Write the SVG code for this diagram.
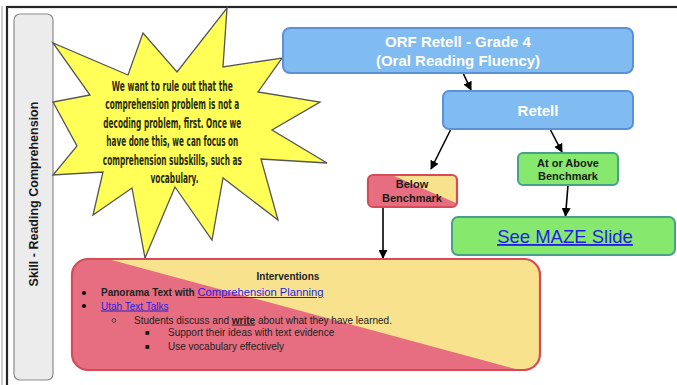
<svg xmlns="http://www.w3.org/2000/svg" width="677" height="385" viewBox="0 0 677 385">
  <defs>
    <marker id="arrow" viewBox="0 0 10 10" refX="9" refY="5" markerWidth="9" markerHeight="9" markerUnits="userSpaceOnUse" orient="auto">
      <path d="M0,0 L10,5 L0,10 z" fill="#000"/>
    </marker>
    <clipPath id="clip-below">
      <rect x="368" y="175" width="89" height="32" rx="5"/>
    </clipPath>
    <clipPath id="clip-interventions">
      <rect x="72" y="259" width="468" height="111" rx="16"/>
    </clipPath>
    <style>
      .frame { fill: none; stroke: #262626; stroke-width: 2.2; }
      .side { fill: #ececec; stroke: #8c8c8c; stroke-width: 1.2; }
      .side-label { font-family: "Liberation Sans", Arial, sans-serif; font-weight: bold; font-size: 12.5px; fill: #1a1a1a; }
      .star { fill: #ffff57; stroke: #555; stroke-width: 1.3; stroke-linejoin: miter; }
      .star-text { font-family: "Liberation Sans Narrow", "DejaVu Sans Condensed", "Liberation Sans", sans-serif; font-stretch: condensed; font-weight: bold; font-size: 14px; fill: #2b2b10; text-anchor: middle; }
      .blue-box { fill: #80bcf1; stroke: #5b92d6; stroke-width: 2; }
      .blue-text { font-family: "Liberation Sans", Arial, sans-serif; font-weight: bold; font-size: 15px; fill: #ffffff; text-anchor: middle; }
      .green-box { fill: #86e86c; stroke: #45a08c; stroke-width: 2; }
      .small-bold { font-family: "Liberation Sans", Arial, sans-serif; font-weight: bold; font-size: 11px; fill: #1a1a1a; text-anchor: middle; }
      .red-fill { fill: #e66e80; }
      .yellow-fill { fill: #f8e28e; }
      .red-stroke { fill: none; stroke: #d54b58; stroke-width: 2.2; }
      .link { fill: #1f1fe6; text-decoration: underline; }
      .body { font-family: "Liberation Sans", Arial, sans-serif; font-size: 10px; fill: #222; }
      .connector { stroke: #000; stroke-width: 1.6; fill: none; marker-end: url(#arrow); }
    </style>
  </defs>

  <rect width="677" height="385" fill="#ffffff"/>

  <!-- page frame -->
  <line x1="2" y1="6" x2="2" y2="385" stroke="#9a9a9a" stroke-width="1"/>
  <rect class="frame" x="7" y="7" width="690" height="400"/>

  <!-- side label -->
  <g id="skill-label">
    <rect class="side" x="14" y="14" width="39" height="366" rx="6"/>
    <text class="side-label" transform="translate(38,194) rotate(-90)" text-anchor="middle">Skill - Reading Comprehension</text>
  </g>

  <!-- call-out starburst -->
  <g id="note-star">
    <polygon class="star" points="227,8 223,67 282,58 258,92 320,102 272,130 327,163 261,159 278,220 223,178 212,240 175,187 145,258 132,188 93,215 103,172 53,175 77,146 53,102 90,95 53,43 128,75 143,33 177,72"/>
    <text class="star-text">
      <tspan x="174.5" y="91" textLength="121" lengthAdjust="spacingAndGlyphs">We want to rule out that the</tspan>
      <tspan x="174.5" y="109.4" textLength="134" lengthAdjust="spacingAndGlyphs">comprehension problem is not a</tspan>
      <tspan x="174.5" y="127.8" textLength="138" lengthAdjust="spacingAndGlyphs">decoding problem, first. Once we</tspan>
      <tspan x="174.5" y="146.2" textLength="132" lengthAdjust="spacingAndGlyphs">have done this, we can focus on</tspan>
      <tspan x="174.5" y="164.6" textLength="139" lengthAdjust="spacingAndGlyphs">comprehension subskills, such as</tspan>
      <tspan x="174.5" y="183" textLength="48" lengthAdjust="spacingAndGlyphs">vocabulary.</tspan>
    </text>
  </g>

  <!-- connectors -->
  <g id="connectors">
    <line class="connector" x1="463" y1="73" x2="471" y2="90"/>
    <line class="connector" x1="451" y1="129" x2="431" y2="169"/>
    <line class="connector" x1="550" y1="129" x2="562" y2="152"/>
    <line class="connector" x1="568" y1="185" x2="565.5" y2="216"/>
    <line class="connector" x1="383" y1="207" x2="383" y2="258"/>
  </g>

  <g id="orf-retell">
    <rect class="blue-box" x="283" y="28" width="350" height="45" rx="7"/>
    <text class="blue-text" x="458" y="47">ORF Retell - Grade 4</text>
    <text class="blue-text" x="458" y="65.5">(Oral Reading Fluency)</text>
  </g>

  <g id="retell">
    <rect class="blue-box" x="443" y="91" width="190" height="38" rx="6"/>
    <text class="blue-text" x="538" y="115.5">Retell</text>
  </g>

  <g id="below-benchmark">
    <g clip-path="url(#clip-below)">
      <rect class="red-fill" x="368" y="175" width="89" height="32"/>
      <polygon class="yellow-fill" points="392,175 458,175 458,204"/>
    </g>
    <rect class="red-stroke" x="368" y="175" width="89" height="32" rx="5"/>
    <text class="small-bold" x="412" y="188">Below</text>
    <text class="small-bold" x="412" y="201.5">Benchmark</text>
  </g>

  <g id="at-or-above">
    <rect class="green-box" x="518" y="153" width="100" height="32" rx="5"/>
    <text class="small-bold" x="568" y="167">At or Above</text>
    <text class="small-bold" x="568" y="180">Benchmark</text>
  </g>

  <g id="maze-slide">
    <rect class="green-box" x="452" y="217" width="223" height="38" rx="6"/>
    <text x="565" y="243" text-anchor="middle" font-family="Liberation Sans, Arial, sans-serif" font-size="18.5" class="link">See MAZE Slide</text>
  </g>

  <g id="interventions">
    <g clip-path="url(#clip-interventions)">
      <rect class="red-fill" x="72" y="259" width="468" height="111"/>
      <polygon class="yellow-fill" points="108,259 545,259 545,372 527,372"/>
    </g>
    <rect class="red-stroke" x="72" y="259" width="468" height="111" rx="16"/>
    <text class="body" x="288" y="279.5" text-anchor="middle" font-weight="bold" font-size="11">Interventions</text>
    <circle cx="84" cy="293" r="2.1" fill="#111"/>
    <text class="body" x="101" y="296"><tspan font-weight="bold">Panorama Text with </tspan><tspan class="link" textLength="126" lengthAdjust="spacingAndGlyphs">Comprehension Planning</tspan></text>
    <circle cx="84" cy="306" r="2.1" fill="#111"/>
    <text class="body" x="101" y="309.5"><tspan class="link">Utah Text Talks</tspan></text>
    <circle cx="114" cy="320.5" r="1.9" fill="none" stroke="#333" stroke-width="0.8"/>
    <text class="body" x="134" y="323.5">Students discuss and <tspan font-weight="bold" text-decoration="underline">write</tspan> about what they have learned.</text>
    <rect x="145.5" y="331" width="3.8" height="3.8" fill="#111"/>
    <text class="body" x="168" y="336">Support their ideas with text evidence</text>
    <rect x="145.5" y="345" width="3.8" height="3.8" fill="#111"/>
    <text class="body" x="168" y="350">Use vocabulary effectively</text>
  </g>
</svg>
